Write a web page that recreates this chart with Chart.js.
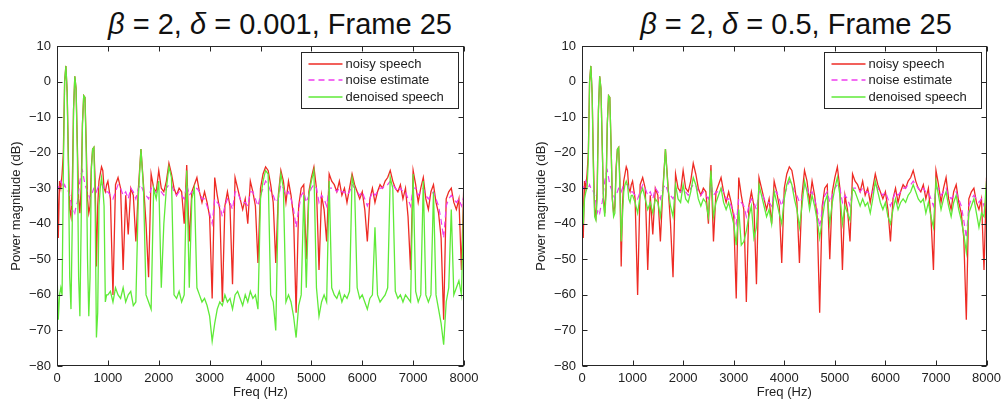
<!DOCTYPE html>
<html lang="en">
<head>
<meta charset="UTF-8">
<title>Spectral subtraction, frame 25</title>
<script src="https://cdn.jsdelivr.net/npm/chart.js"></script>
<style>
  html, body { margin: 0; padding: 0; background: #fff; overflow: hidden; }
  body { width: 1006px; height: 409px; position: relative; font-family: 'Liberation Sans', Arial, sans-serif; }
  canvas { position: absolute; top: 0; }
  .title { position: absolute; top: 10px; font-size: 29px; line-height: 29px; color: #111; white-space: nowrap; transform: translateX(-50%); }
</style>
</head>
<body>
<div class="title" style="left:280px"><i>β</i> = 2, <i>δ</i> = 0.001, Frame 25</div>
<div class="title" style="left:796px"><i>β</i> = 2, <i>δ</i> = 0.5, Frame 25</div>
<canvas id="lowFloor" width="525" height="409" style="left:0"></canvas>
<canvas id="highFloor" width="481" height="409" style="left:525px"></canvas>

<script>
// bins: every 25 Hz below 1 kHz (harmonics), every 50 Hz above
const freq = [];
for (let f = 0; f < 1000; f += 25) freq.push(f);
for (let f = 1000; f <= 8000; f += 50) freq.push(f);

// dB values (same noisy frame and noise estimate in both panels)
const noisy = [
  -22, -44, -28, -30, -26, -20, 0, 4.4, -3, -22,
  -36, -38, -30, -8, 1.5, -2, -18, -33, -37, -30,
  -12, -4, -4.5, -18, -33, -37, -35, -24, -19, -18.5,
  -28, -52, -35, -28, -26, -24, -25, -30, -31, -29,
  -28, -33, -60, -29, -27, -30, -53, -32, -43, -30,
  -32, -45, -30, -19, -29, -40, -55, -26, -30, -31,
  -25, -30, -31, -28, -23, -26, -30, -32, -30, -31,
  -40, -23.5, -45, -31, -29, -27, -31, -34, -31, -34,
  -38, -61, -27, -32, -36, -62, -35, -31, -35, -57,
  -27, -30, -33, -36, -33, -40, -28, -31, -35, -51,
  -30, -26, -24, -25, -29, -34, -51, -32, -25, -28,
  -34, -28, -32, -38, -65, -35, -30, -29, -50, -31,
  -27, -24, -30, -53, -32, -36, -45, -26, -28, -29,
  -31, -28, -32, -30, -34, -30, -26, -29, -31, -33,
  -31, -36, -45, -33, -30, -34, -31, -29, -30, -28,
  -27, -25, -28, -30, -31, -29, -33, -30, -38, -53,
  -25, -29, -34, -30, -27, -33, -36, -31, -29, -34,
  -37, -44, -67, -33, -31, -30, -34, -36, -33, -53,
  -27
];

const noiseEst = [
  -31, -30, -29, -28, -29, -30, -29, -30, -30, -31,
  -32, -34, -37, -36, -37, -35, -34, -31, -28, -26,
  -25, -27, -29, -30, -31, -32, -33, -32, -31, -30,
  -30, -31, -30, -29, -29, -29, -29, -30, -30, -31,
  -31, -32, -33, -31, -29, -30, -32, -31, -33, -30,
  -31, -33, -30, -29, -31, -32, -33, -30, -31, -31,
  -30, -31, -32, -30, -29, -29, -31, -32, -31, -32,
  -33, -29, -32, -31, -31, -30, -31, -33, -33, -35,
  -37, -40, -33, -34, -35, -38, -35, -33, -34, -36,
  -31, -31, -33, -34, -34, -35, -31, -31, -33, -35,
  -32, -30, -28, -29, -31, -32, -34, -33, -29, -30,
  -32, -31, -33, -36, -41, -36, -32, -31, -34, -32,
  -30, -29, -30, -34, -32, -33, -35, -30, -30, -30,
  -31, -30, -31, -31, -32, -31, -29, -30, -31, -32,
  -31, -33, -35, -33, -31, -32, -31, -30, -30, -29,
  -29, -28, -29, -30, -31, -30, -31, -31, -33, -35,
  -30, -30, -32, -31, -30, -32, -33, -32, -31, -33,
  -35, -39, -44, -35, -33, -32, -33, -34, -33, -35,
  -32
];

// denoised, delta = 0.001
const denoisedLow = [
  -53, -67, -60, -58, -60, -25, 0, 4.4, -3, -25,
  -55, -64, -40, -8, 1.5, -2, -20, -55, -66, -40,
  -12, -4, -4.5, -20, -50, -66, -55, -25, -19, -18.5,
  -35, -72, -65, -35, -30, -27, -30, -35, -62, -60,
  -60, -59, -62, -58, -60, -61, -58, -62, -60, -59,
  -63, -62, -32, -19, -30, -60, -62, -64, -30, -33,
  -28, -58, -40, -30, -24, -27, -60, -61, -59, -62,
  -60, -25, -58, -33, -30, -58, -60, -62, -61, -63,
  -66, -73, -68, -64, -62, -63, -60, -62, -61, -64,
  -60, -59, -61, -63, -60, -62, -59, -61, -60, -64,
  -33, -28, -25, -26, -60, -62, -70, -33, -26, -30,
  -62, -60, -62, -66, -72, -63, -60, -32, -58, -32,
  -28, -25, -58, -66, -62, -60, -62, -28, -58, -60,
  -61, -59, -62, -60, -61, -59, -27, -30, -58, -61,
  -60, -62, -64, -61, -60, -41, -60, -62, -61, -60,
  -58, -27, -30, -59, -61, -60, -62, -60, -61, -62,
  -26, -59, -62, -60, -28, -60, -62, -60, -31, -60,
  -64, -68, -74, -62, -58, -36, -60, -58, -56, -60,
  -30
];

// denoised, delta = 0.5
const denoisedHigh = [
  -30, -40, -33, -31, -30, -22, 0, 4.4, -3, -25,
  -38, -39, -33, -8, 1.5, -2, -18, -34, -38, -32,
  -12, -4, -4.5, -18, -33, -38, -37, -25, -19, -18.5,
  -30, -45, -38, -31, -29, -28, -29, -33, -34, -32,
  -32, -34, -37, -32, -30, -33, -36, -34, -37, -33,
  -34, -38, -31, -19, -30, -35, -38, -29, -33, -34,
  -29, -33, -34, -31, -27, -29, -33, -35, -33, -34,
  -38, -25, -38, -34, -32, -30, -34, -36, -34, -37,
  -40, -46, -36, -46, -45, -42, -38, -35, -44, -41,
  -29, -32, -35, -38, -36, -40, -31, -34, -37, -40,
  -33, -29, -27, -29, -33, -36, -41, -35, -28, -31,
  -36, -32, -35, -39, -44, -39, -34, -32, -40, -34,
  -30, -27, -32, -40, -35, -37, -39, -30, -31, -33,
  -35, -33, -35, -34, -37, -33, -28, -31, -34, -36,
  -34, -38, -40, -36, -33, -36, -34, -33, -34, -32,
  -31, -29, -31, -33, -34, -33, -37, -34, -38, -41,
  -28, -32, -36, -33, -31, -35, -38, -34, -32, -36,
  -39, -43, -48, -37, -35, -33, -37, -41, -37, -38,
  -28
];

const seriesNames = ['noisy speech', 'noise estimate', 'denoised speech'];
const seriesColors = ['#ee2b24', '#ee3cee', '#5fea38'];

Chart.defaults.font.family = "'Liberation Sans', Arial, sans-serif";
Chart.defaults.color = '#222';

// matlab-style box, inward ticks and a legend inside the axes
const frame = {
  id: 'frame',
  afterDraw(chart) {
    const { ctx, chartArea: a, scales: { x, y } } = chart;
    const L = Math.round(a.left) + 0.5, R = Math.round(a.right) - 0.5;
    const T = Math.round(a.top) + 0.5, B = Math.round(a.bottom) - 0.5;
    ctx.save();
    ctx.strokeStyle = '#262626';
    ctx.lineWidth = 1;
    ctx.strokeRect(L, T, R - L, B - T);
    ctx.beginPath();
    x.ticks.forEach(t => {
      const px = Math.round(x.getPixelForValue(t.value)) + 0.5;
      ctx.moveTo(px, B); ctx.lineTo(px, B - 5);
      ctx.moveTo(px, T); ctx.lineTo(px, T + 5);
    });
    y.ticks.forEach(t => {
      const py = Math.round(y.getPixelForValue(t.value)) + 0.5;
      ctx.moveTo(L, py); ctx.lineTo(L + 5, py);
      ctx.moveTo(R, py); ctx.lineTo(R - 5, py);
    });
    ctx.stroke();

    const bw = 157, bh = 56;
    const bx = Math.round(a.right) - 6 - bw + 0.5, by = Math.round(a.top) + 6 + 0.5;
    ctx.fillStyle = '#fff';
    ctx.fillRect(bx, by, bw, bh);
    ctx.strokeRect(bx, by, bw, bh);
    ctx.font = "13px 'Liberation Sans', Arial, sans-serif";
    ctx.textBaseline = 'middle';
    seriesNames.forEach((name, i) => {
      const ry = Math.round(by + 11 + i * 16.5);
      ctx.strokeStyle = seriesColors[i];
      ctx.lineWidth = 1.3;
      ctx.setLineDash(i === 1 ? [6, 4] : []);
      ctx.beginPath();
      ctx.moveTo(bx + 7, ry); ctx.lineTo(bx + 41, ry);
      ctx.stroke();
      ctx.setLineDash([]);
      ctx.fillStyle = '#222';
      ctx.fillText(name, bx + 44, ry);
    });
    ctx.restore();
  }
};

function series(vals) {
  return vals.map((v, i) => ({ x: freq[i], y: v }));
}

function makeChart(id, denoised, padRight) {
  return new Chart(document.getElementById(id), {
    type: 'line',
    data: {
      datasets: [
        { label: seriesNames[0], data: series(noisy), borderColor: seriesColors[0], borderWidth: 1.3, order: 3 },
        { label: seriesNames[1], data: series(noiseEst), borderColor: seriesColors[1], borderWidth: 1.2, borderDash: [6, 4], order: 2 },
        { label: seriesNames[2], data: series(denoised), borderColor: seriesColors[2], borderWidth: 1.3, order: 1 }
      ]
    },
    options: {
      responsive: false,
      animation: false,
      devicePixelRatio: 1,
      layout: { padding: { top: 46, right: padRight, bottom: 0, left: 0 } },
      elements: { point: { radius: 0 }, line: { tension: 0 } },
      plugins: { legend: { display: false }, tooltip: { enabled: false } },
      scales: {
        x: {
          type: 'linear', min: 0, max: 8000,
          grid: { display: false, drawTicks: false },
          border: { display: false },
          ticks: { stepSize: 1000, padding: 5, maxRotation: 0, font: { size: 13 }, callback: v => String(v) },
          title: { display: true, text: 'Freq (Hz)', font: { size: 13 }, padding: { top: 0, bottom: 9 } },
          afterFit: s => { s.height = 43; }
        },
        y: {
          min: -80, max: 10,
          grid: { display: false, drawTicks: false },
          border: { display: false },
          ticks: { stepSize: 10, padding: 6, font: { size: 13 }, callback: v => v < 0 ? '\u2212' + (-v) : String(v) },
          title: { display: true, text: 'Power magnitude (dB)', font: { size: 13 }, padding: { top: 9, bottom: 0 } },
          afterFit: s => { s.width = 57; }
        }
      }
    },
    plugins: [frame]
  });
}

makeChart('lowFloor', denoisedLow, 61);
makeChart('highFloor', denoisedHigh, 18);
</script>
</body>
</html>
